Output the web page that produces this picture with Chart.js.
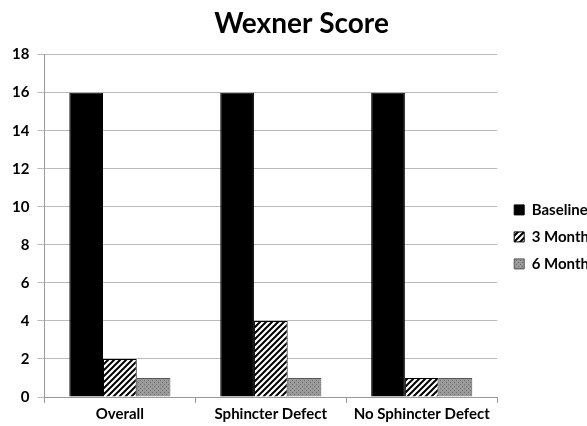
<!DOCTYPE html>
<html>
<head>
<meta charset="utf-8">
<script src="https://cdn.jsdelivr.net/npm/chart.js@4.4.1/dist/chart.umd.min.js"></script>
<style>
  html, body { margin: 0; padding: 0; background: #fff; }
  #wrap { width: 587px; height: 426px; }
</style>
</head>
<body>
<div id="wrap"><canvas id="wexner"></canvas></div>
<script>
const categories = ['Overall', 'Sphincter Defect', 'No Sphincter Defect'];
const baseline = [16, 16, 16];
const month3 = [2, 4, 1];
const month6 = [1, 1, 1];
const yTicks = [0, 2, 4, 6, 8, 10, 12, 14, 16, 18];

// diagonal black hatch on white
const makeHatch = () => {
    const c = document.createElement('canvas');
    c.width = 6; c.height = 6;
    const g = c.getContext('2d');
    g.fillStyle = '#fff';
    g.fillRect(0, 0, 6, 6);
    g.strokeStyle = '#000';
    g.lineWidth = 2;
    g.beginPath();
    g.moveTo(-1, 7); g.lineTo(7, -1);
    g.moveTo(-4, 4); g.lineTo(4, -4);
    g.moveTo(2, 10); g.lineTo(10, 2);
    g.stroke();
    return g.createPattern(c, 'repeat');
};

// grey stipple
const makeStipple = () => {
    const c = document.createElement('canvas');
    c.width = 4; c.height = 4;
    const g = c.getContext('2d');
    g.fillStyle = '#9a9a9a';
    g.fillRect(0, 0, 4, 4);
    g.fillStyle = '#6e6e6e';
    g.fillRect(0, 0, 1, 1);
    g.fillRect(2, 2, 1, 1);
    return g.createPattern(c, 'repeat');
};

const font = "Lato, 'Open Sans', sans-serif";

const ctx = document.getElementById('wexner').getContext('2d');
new Chart(ctx, {
    type: 'bar',
    data: {
        labels: categories,
        datasets: [
            { label: 'Baseline', data: baseline, backgroundColor: '#000', borderColor: '#000', borderWidth: 1 },
            { label: '3 Month', data: month3, backgroundColor: makeHatch(), borderColor: '#000', borderWidth: 1 },
            { label: '6 Month', data: month6, backgroundColor: makeStipple(), borderColor: '#555', borderWidth: 1 }
        ]
    },
    options: {
        responsive: true,
        maintainAspectRatio: false,
        animation: false,
        layout: { padding: { left: 4, right: -12, top: 0, bottom: 1 } },
        datasets: { bar: { categoryPercentage: 0.67, barPercentage: 1.0 } },
        plugins: {
            title: {
                display: true,
                text: 'Wexner Score',
                color: '#000',
                font: { family: font, size: 28, weight: 'bold' },
                padding: { top: 7, bottom: 14 }
            },
            legend: {
                position: 'right',
                title: { display: true, text: ' ', padding: 16, font: { size: 14 } },
                labels: {
                    color: '#000',
                    font: { family: font, size: 15, weight: 'bold' },
                    boxWidth: 10,
                    boxHeight: 10,
                    padding: 12
                }
            },
            tooltip: { enabled: false }
        },
        scales: {
            x: {
                grid: { display: true, drawOnChartArea: false, offset: true, tickLength: 6, color: '#999' },
                border: { color: '#999' },
                ticks: { color: '#000', font: { family: font, size: 15, weight: 'bold' }, padding: 2, maxRotation: 0 }
            },
            y: {
                min: 0,
                max: 18,
                afterBuildTicks: (axis) => { axis.ticks = yTicks.map(v => ({ value: v })); },
                grid: { color: '#bbb', tickLength: 7 },
                border: { color: '#999' },
                ticks: { color: '#000', font: { family: font, size: 15, weight: 'bold' }, padding: 8 }
            },
            // empty axis used as a gap between plot and legend
            gap: {
                type: 'linear',
                position: 'right',
                grid: { display: false },
                border: { display: false },
                ticks: { display: false },
                afterFit: (axis) => { axis.width = 5; }
            }
        }
    }
});
</script>
</body>
</html>
